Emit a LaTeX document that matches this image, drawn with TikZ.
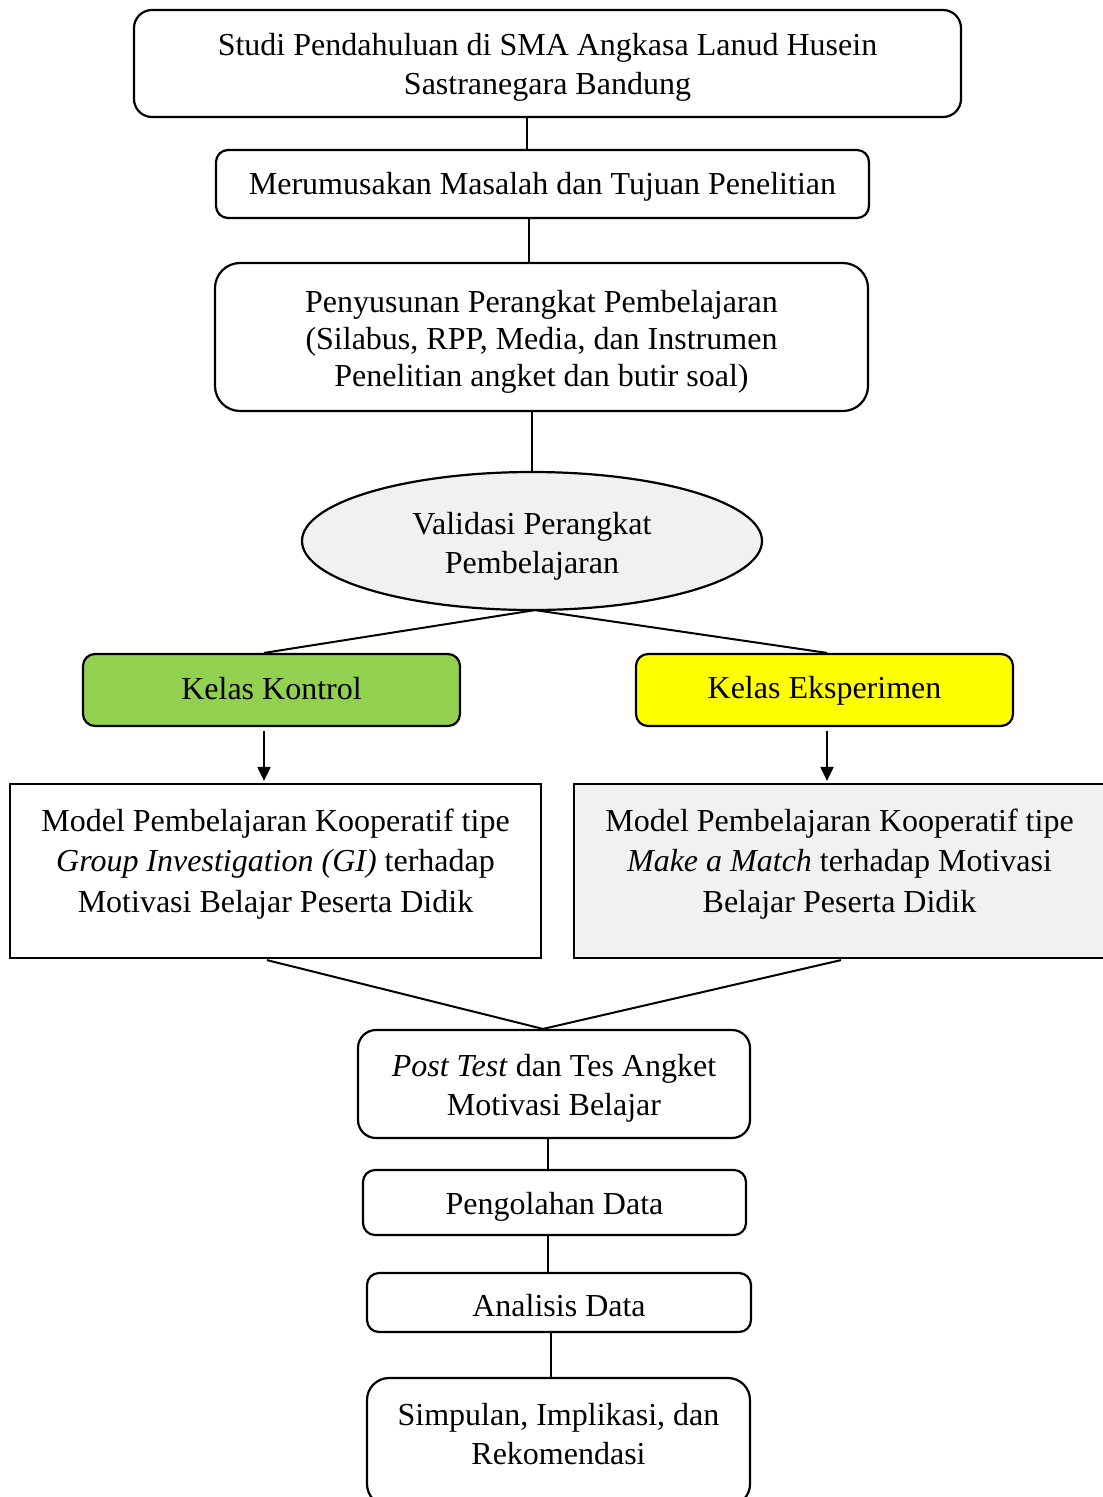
\documentclass[tikz,border=0pt]{standalone}
\usepackage{fontspec}
\setmainfont{Liberation Serif}
\usetikzlibrary{arrows.meta,shapes.geometric}
\definecolor{kgreen}{HTML}{92D050}
\definecolor{kyellow}{HTML}{FFFF00}
\definecolor{lgray}{HTML}{F1F1F1}
\begin{document}
\begin{tikzpicture}[x=1pt,y=-1pt,
  every node/.style={font=\fontsize{32}{39}\selectfont, align=center, inner sep=0pt},
  rbox/.style={draw, line width=2.2pt, rounded corners=#1},
  rbox/.default=14pt,
  pbox/.style={draw, line width=2.2pt},
  conn/.style={line width=2pt},
  arr/.style={line width=2pt, -{Triangle[length=14pt,width=13pt]}}
]
\useasboundingbox (0,0) rectangle (1103,1497);

\node[rbox=18pt, minimum width=827pt, minimum height=107pt] (b1) at (547.5,63.5) {};
\node (t1) at ([yshift=-4pt]b1.center)
  {Studi Pendahuluan di SMA Angkasa Lanud Husein\\Sastranegara Bandung};
\node[rbox=12pt, minimum width=653pt, minimum height=68pt, text height=28pt, text depth=7pt] (b2) at (542.5,184)
  {Merumusakan Masalah dan Tujuan Penelitian};
\node[rbox=25pt, minimum width=653pt, minimum height=148pt] (b3) at (541.5,337) {};
\node[font=\fontsize{32}{37}\selectfont] (t3) at ([yshift=-4.5pt]b3.center)
  {Penyusunan Perangkat Pembelajaran\\(Silabus, RPP, Media, dan Instrumen\\Penelitian angket dan butir soal)};
\node[ellipse, draw, line width=2.2pt, fill=lgray, minimum width=460pt, minimum height=138pt] (val) at (532,541) {};
\node (tv) at ([yshift=-5pt]val.center) {Validasi Perangkat\\Pembelajaran};
\node[rbox=12pt, fill=kgreen, minimum width=377pt, minimum height=72pt, text height=22pt, text depth=4pt] (kk) at (271.5,690) {Kelas Kontrol};
\node[rbox=12pt, fill=kyellow, minimum width=377pt, minimum height=72pt, text height=24pt, text depth=7pt] (ke) at (824.5,690) {Kelas Eksperimen};

\node[pbox, minimum width=531pt, minimum height=174pt] (mL) at (275.5,871) {};
\node[font=\fontsize{32}{40.5}\selectfont] (tL) at ([yshift=7pt]mL.center)
  {Model Pembelajaran Kooperatif tipe\\\textit{Group Investigation (GI)} terhadap\\Motivasi Belajar Peserta Didik};
\node[pbox, fill=lgray, minimum width=531pt, minimum height=174pt] (mR) at (839.5,871) {};
\node[font=\fontsize{32}{40.5}\selectfont] (tR) at ([yshift=7pt]mR.center)
  {Model Pembelajaran Kooperatif tipe\\\textit{Make a Match} terhadap Motivasi\\Belajar Peserta Didik};

\node[rbox=18pt, minimum width=392pt, minimum height=108pt] (pt) at (554,1084) {};
\node (tp) at ([yshift=-4.5pt]pt.center) {\textit{Post Test} dan Tes Angket\\Motivasi Belajar};
\node[rbox=12pt, minimum width=383pt, minimum height=65pt, text height=30pt, text depth=7pt] (pd) at (554.5,1202.5) {Pengolahan Data};
\node[rbox=12pt, minimum width=384pt, minimum height=59pt, text height=28pt, text depth=0pt] (ad) at (559,1302.5) {Analisis Data};
\node[rbox=22pt, minimum width=383pt, minimum height=128pt] (sim) at (558.5,1442) {};
\node (tS) at ([yshift=7.5pt]sim.center) {Simpulan, Implikasi, dan\\Rekomendasi};

% connectors
\draw[conn] ([xshift=-20.5pt]b1.south) -- ([xshift=-20.5pt]b1.south |- b2.north);
\draw[conn] ([xshift=-13.5pt]b2.south) -- ([xshift=-13.5pt]b2.south |- b3.north);
\draw[conn] (val.north |- b3.south) -- (val.north);
\draw[conn] ([xshift=3pt,yshift=1pt]val.south) -- ([xshift=-7.5pt]kk.north);
\draw[conn] ([xshift=3pt,yshift=1pt]val.south) -- ([xshift=2.5pt]ke.north);
\draw[arr] ([xshift=-7.5pt,yshift=-4pt]kk.south) -- ([xshift=-7.5pt,yshift=2pt]kk.south |- mL.north);
\draw[arr] ([xshift=2.5pt,yshift=-4pt]ke.south) -- ([xshift=2.5pt,yshift=2pt]ke.south |- mR.north);
\draw[conn] ([xshift=-8.5pt,yshift=-1pt]mL.south) -- ([xshift=-11pt]pt.north);
\draw[conn] ([xshift=1.5pt,yshift=-1pt]mR.south) -- ([xshift=-11pt]pt.north);
\draw[conn] ([xshift=-6pt]pt.south) -- ([xshift=-6pt]pt.south |- pd.north);
\draw[conn] ([xshift=-6.5pt]pd.south) -- ([xshift=-6.5pt]pd.south |- ad.north);
\draw[conn] ([xshift=-8pt]ad.south) -- ([xshift=-8pt]ad.south |- sim.north);
\end{tikzpicture}
\end{document}
